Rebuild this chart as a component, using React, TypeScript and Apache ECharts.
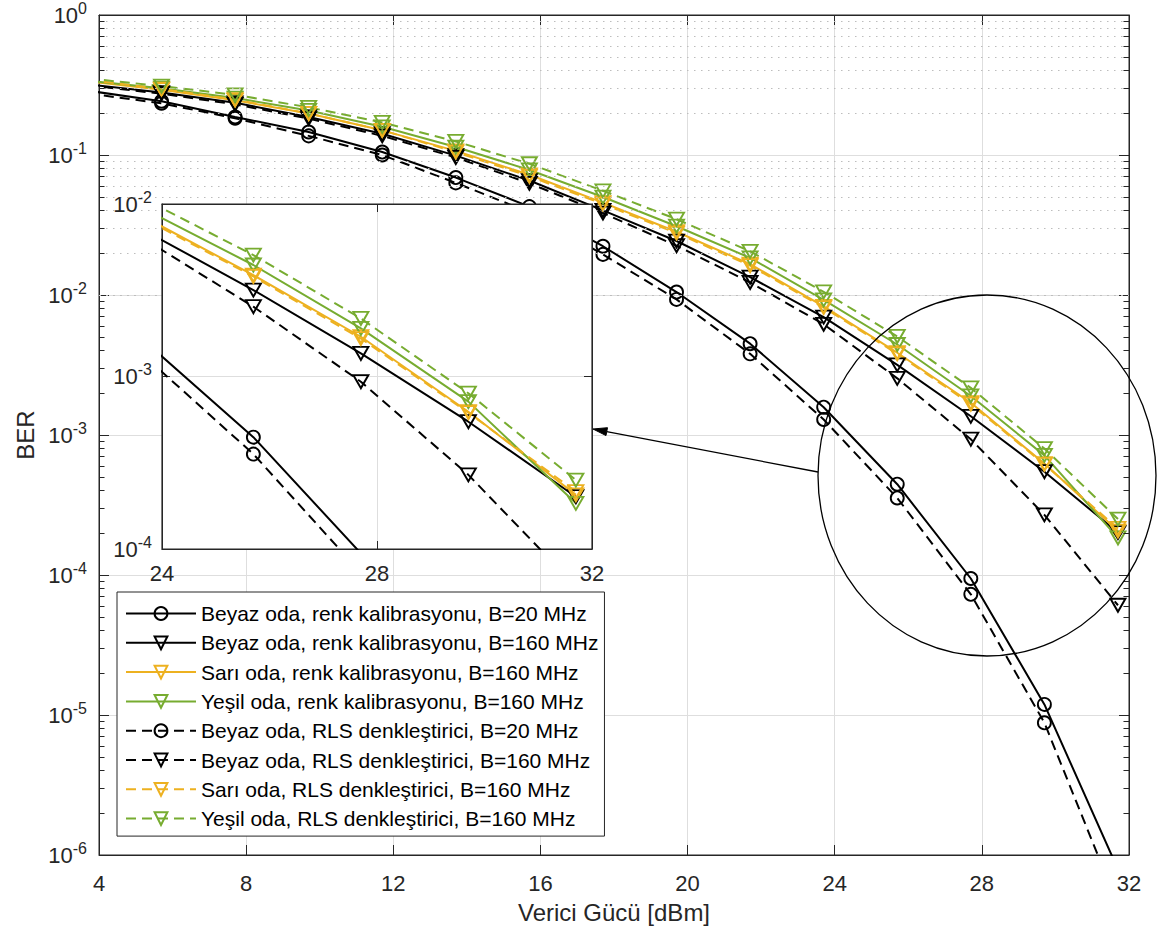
import React, { useEffect, useRef } from 'react';
import * as echarts from 'echarts';

// Transmit power [dBm] at which curves are sampled
const xPower = [3.7, 5.7, 7.7, 9.7, 11.7, 13.7, 15.7, 17.7, 19.7, 21.7, 23.7, 25.7, 27.7, 29.7, 31.7];

// BER values
const beyazRenk20 = [0.288, 0.242, 0.187, 0.146, 0.105, 0.069, 0.0428, 0.0223, 0.0105, 0.00449, 0.00158, 4.45e-4, 9.44e-5, 1.19e-5, 7.9e-7];
const beyazRenk160 = [0.32, 0.279, 0.236, 0.187, 0.142, 0.099, 0.0657, 0.0402, 0.0243, 0.0134, 6.95e-3, 3.17e-3, 1.36e-3, 5.47e-4, 2.01e-4];
const sariRenk160 = [0.336, 0.293, 0.246, 0.198, 0.150, 0.107, 0.0722, 0.0457, 0.0283, 0.0166, 8.30e-3, 3.87e-3, 1.70e-3, 6.25e-4, 2.06e-4];
const yesilRenk160 = [0.340, 0.300, 0.255, 0.208, 0.159, 0.114, 0.0782, 0.0501, 0.0310, 0.0184, 9.23e-3, 4.43e-3, 1.90e-3, 7.15e-4, 1.84e-4];
const beyazRls20 = [0.275, 0.234, 0.183, 0.137, 0.100, 0.0632, 0.039, 0.0195, 0.0093, 0.0038, 0.00129, 3.55e-4, 7.28e-5, 8.8e-6, 4.4e-7];
const beyazRls160 = [0.314, 0.274, 0.230, 0.182, 0.137, 0.096, 0.0628, 0.0385, 0.0225, 0.0123, 6.18e-3, 2.54e-3, 9.33e-4, 2.69e-4, 6.08e-5];
const sariRls160 = [0.344, 0.296, 0.249, 0.198, 0.150, 0.105, 0.0705, 0.0446, 0.0277, 0.0162, 8.13e-3, 3.80e-3, 1.66e-3, 6.17e-4, 2.15e-4];
const yesilRls160 = [0.352, 0.311, 0.269, 0.219, 0.171, 0.125, 0.0866, 0.0555, 0.0348, 0.0205, 0.01054, 5.06e-3, 2.17e-3, 8.0e-4, 2.51e-4];

const seriesNames = [
  'Beyaz oda, renk kalibrasyonu, B=20 MHz',
  'Beyaz oda, renk kalibrasyonu, B=160 MHz',
  'Sarı oda, renk kalibrasyonu, B=160 MHz',
  'Yeşil oda, renk kalibrasyonu, B=160 MHz',
  'Beyaz oda, RLS denkleştirici, B=20 MHz',
  'Beyaz oda, RLS denkleştirici, B=160 MHz',
  'Sarı oda, RLS denkleştirici, B=160 MHz',
  'Yeşil oda, RLS denkleştirici, B=160 MHz',
];
const seriesValues = [beyazRenk20, beyazRenk160, sariRenk160, yesilRenk160, beyazRls20, beyazRls160, sariRls160, yesilRls160];
const seriesColors = ['#000000', '#000000', '#EDB120', '#77AC30', '#000000', '#000000', '#EDB120', '#77AC30'];
const seriesDashed = [false, false, false, false, true, true, true, true];
const seriesMarker = ['circle', 'tri', 'tri', 'tri', 'circle', 'tri', 'tri', 'tri'];

const mainXTicks = { min: 4, max: 32, interval: 4 };
const insetXTicks = { min: 24, max: 32, interval: 4 };
const mainYRange = { min: 1e-6, max: 1 };
const insetYRange = { min: 1e-4, max: 1e-2 };

const xTitle = 'Verici Gücü [dBm]';
const yTitle = 'BER';

const FONT = '"Liberation Sans", Arial, Helvetica, sans-serif';
const TXT = '#262626';
const FS = 22; // tick labels
const FS_LEG = 21; // legend
const FS_TITLE = 24; // axis titles

function minorValues(minExp: number, maxExp: number) {
  const out: number[] = [];
  for (let e = minExp; e < maxExp; e++) {
    for (let m = 2; m <= 9; m++) out.push(m * Math.pow(10, e));
  }
  return out;
}

const logLabel = {
  fontFamily: FONT,
  color: TXT,
  formatter: (v: number) => {
    const e = Math.round(Math.log10(v));
    return `{b|10}{s|${e}}`;
  },
  rich: {
    b: { fontSize: FS, fontFamily: FONT, color: TXT, lineHeight: 30 },
    s: { fontSize: 16, fontFamily: FONT, color: TXT, lineHeight: 15, verticalAlign: 'top' },
  },
};

function buildOption() {
  const series: any[] = [];
  const makeSeries = (i: number, xIdx: number, yIdx: number, z: number) => {
    const color = seriesColors[i];
    const isTri = seriesMarker[i] === 'tri';
    return {
      type: 'line',
      name: seriesNames[i],
      xAxisIndex: xIdx,
      yAxisIndex: yIdx,
      data: xPower.map((x, k) => [x, seriesValues[i][k]]),
      z,
      clip: true,
      silent: true,
      symbol: isTri ? 'triangle' : 'circle',
      symbolRotate: isTri ? 180 : 0,
      symbolSize: isTri ? [15, 13] : 13,
      showAllSymbol: true,
      lineStyle: {
        color,
        width: 2,
        type: seriesDashed[i] ? [10, 6] : 'solid',
      },
      itemStyle: { color: 'rgba(0,0,0,0)', borderColor: color, borderWidth: 1.9 },
      emphasis: { disabled: true },
    };
  };

  const mainMinor = minorValues(-6, 0);
  const insetMinor = minorValues(-4, -2);

  series.push({
    type: 'line', xAxisIndex: 0, yAxisIndex: 0, data: [], z: 1, silent: true,
    markLine: {
      silent: true, symbol: ['none', 'none'], animation: false, label: { show: false },
      lineStyle: { color: '#bdbdbd', type: [1.5, 5.5], width: 1.2 },
      emphasis: { disabled: true },
      data: mainMinor.map((v) => ({ yAxis: v })),
    },
  });
  series.push({
    type: 'line', xAxisIndex: 0, yAxisIndex: 0, data: [], z: 1, silent: true,
    markLine: {
      silent: true, symbol: ['none', 'none'], animation: false, label: { show: false },
      lineStyle: { color: TXT, type: 'solid', width: 1 },
      emphasis: { disabled: true },
      data: mainMinor.flatMap((v) => [
        [{ coord: [4, v] }, { coord: [4.15, v] }],
        [{ coord: [31.85, v] }, { coord: [32, v] }],
      ]),
    },
  });

  for (let i = 0; i < 8; i++) series.push(makeSeries(i, 0, 0, 2));

  series.push({
    type: 'line', xAxisIndex: 2, yAxisIndex: 2, data: [], z: 11, silent: true,
    markLine: {
      silent: true, symbol: ['none', 'none'], animation: false, label: { show: false },
      lineStyle: { color: '#bdbdbd', type: [1.5, 5.5], width: 1.2 },
      emphasis: { disabled: true },
      data: insetMinor.map((v) => ({ yAxis: v })),
    },
  });
  series.push({
    type: 'line', xAxisIndex: 2, yAxisIndex: 2, data: [], z: 11, silent: true,
    markLine: {
      silent: true, symbol: ['none', 'none'], animation: false, label: { show: false },
      lineStyle: { color: TXT, type: 'solid', width: 1 },
      emphasis: { disabled: true },
      data: insetMinor.flatMap((v) => [
        [{ coord: [24, v] }, { coord: [24.1, v] }],
        [{ coord: [31.9, v] }, { coord: [32, v] }],
      ]),
    },
  });
  for (let i = 0; i < 8; i++) series.push(makeSeries(i, 2, 2, 12));

  const axisLine = { show: true, lineStyle: { color: TXT, width: 1 } };
  const tick = (len: number) => ({ show: true, inside: true, length: len, lineStyle: { color: TXT, width: 1 } });
  const split = { show: true, lineStyle: { color: '#dedede', width: 1 } };

  // arrow geometry (annotation)
  const tail = [818, 472];
  const tip = [593, 429];
  const dx = tip[0] - tail[0];
  const dy = tip[1] - tail[1];
  const len = Math.hypot(dx, dy);
  const ux = dx / len, uy = dy / len;
  const hl = 14, hw = 4;
  const bx = tip[0] - ux * hl, by = tip[1] - uy * hl;
  const px = -uy, py = ux;

  return {
    animation: false,
    backgroundColor: '#ffffff',
    textStyle: { fontFamily: FONT },
    grid: [
      { left: 99, top: 15, width: 1030, height: 840, show: true, backgroundColor: '#fff', borderColor: TXT, borderWidth: 1, z: 0 },
      { left: 162, top: 204, width: 430, height: 345, show: true, backgroundColor: '#fff', borderColor: TXT, borderWidth: 1.2, z: 10 },
    ],
    xAxis: [
      {
        gridIndex: 0, type: 'value', position: 'bottom', ...mainXTicks,
        axisLine, axisTick: tick(10), splitLine: split,
        axisLabel: { fontSize: FS, color: TXT, fontFamily: FONT, margin: 17 },
        name: xTitle, nameLocation: 'middle', nameGap: 45,
        nameTextStyle: { fontSize: FS_TITLE, color: TXT, fontFamily: FONT },
      },
      {
        gridIndex: 0, type: 'value', position: 'top', ...mainXTicks,
        axisLine, axisTick: tick(10), splitLine: { show: false }, axisLabel: { show: false },
      },
      {
        gridIndex: 1, type: 'value', position: 'bottom', ...insetXTicks, z: 11,
        axisLine, axisTick: tick(8), splitLine: split,
        axisLabel: { fontSize: FS, color: TXT, fontFamily: FONT, margin: 13 },
      },
      {
        gridIndex: 1, type: 'value', position: 'top', ...insetXTicks, z: 11,
        axisLine, axisTick: tick(8), splitLine: { show: false }, axisLabel: { show: false },
      },
    ],
    yAxis: [
      {
        gridIndex: 0, type: 'log', logBase: 10, position: 'left', ...mainYRange, splitNumber: 6,
        axisLine, axisTick: tick(10), splitLine: split, minorTick: { show: false },
        axisLabel: { ...logLabel, margin: 12 },
        name: yTitle, nameLocation: 'middle', nameGap: 57, nameRotate: 90,
        nameTextStyle: { fontSize: FS_TITLE, color: TXT, fontFamily: FONT },
      },
      {
        gridIndex: 0, type: 'log', logBase: 10, position: 'right', ...mainYRange, splitNumber: 6,
        axisLine, axisTick: tick(10), splitLine: { show: false }, axisLabel: { show: false },
      },
      {
        gridIndex: 1, type: 'log', logBase: 10, position: 'left', ...insetYRange, splitNumber: 2, z: 11,
        axisLine, axisTick: tick(8), splitLine: split,
        axisLabel: { ...logLabel, margin: 10 },
      },
      {
        gridIndex: 1, type: 'log', logBase: 10, position: 'right', ...insetYRange, splitNumber: 2, z: 11,
        axisLine, axisTick: tick(8), splitLine: { show: false }, axisLabel: { show: false },
      },
    ],
    legend: {
      show: true,
      orient: 'vertical',
      left: 117,
      top: 592,
      data: seriesNames,
      selectedMode: false,
      backgroundColor: '#ffffff',
      borderColor: TXT,
      borderWidth: 1,
      padding: [11, 6, 7, 8],
      itemGap: 8.3,
      itemWidth: 70,
      itemHeight: 16,
      textStyle: { fontSize: FS_LEG, fontFamily: FONT, color: '#000', lineHeight: 21 },
      z: 20,
    },
    graphic: [
      {
        type: 'ellipse', z: 50, silent: true,
        shape: { cx: 987, cy: 475.5, rx: 169, ry: 180.5 },
        style: { fill: 'none', stroke: '#000', lineWidth: 1.3 },
      },
      {
        type: 'line', z: 50, silent: true,
        shape: { x1: tail[0], y1: tail[1], x2: bx, y2: by },
        style: { stroke: '#000', lineWidth: 1.3 },
      },
      {
        type: 'polygon', z: 50, silent: true,
        shape: { points: [[tip[0], tip[1]], [bx + px * hw, by + py * hw], [bx - px * hw, by - py * hw]] },
        style: { fill: '#000', stroke: '#000', lineWidth: 1 },
      },
    ],
    series,
  };
}

export default function App() {
  const ref = useRef<HTMLDivElement>(null);
  useEffect(() => {
    if (!ref.current) return;
    const chart = echarts.init(ref.current, null, { renderer: 'svg' });
    chart.setOption(buildOption() as any);
    return () => chart.dispose();
  }, []);
  return (
    <div
      ref={ref}
      style={{ position: 'absolute', left: 0, top: 0, width: 1163, height: 935, background: '#fff' }}
    />
  );
}
